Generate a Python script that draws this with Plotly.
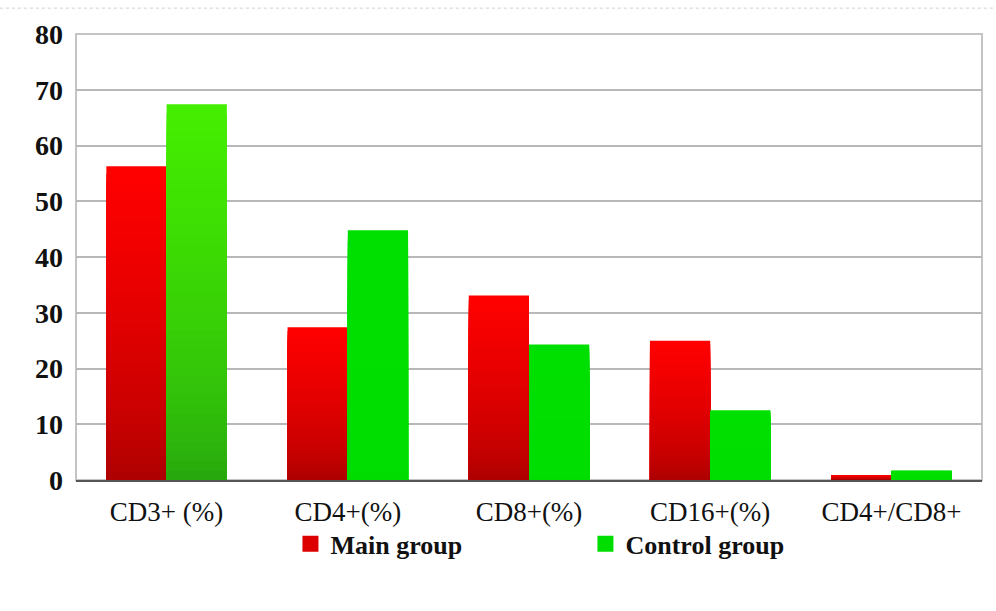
import plotly.graph_objects as go

# Lymphocyte subpopulations, main vs control group
categories = ["CD3+ (%)", "CD4+(%)", "CD8+(%)", "CD16+(%)", "CD4+/CD8+"]
main_group = [56.3, 27.4, 33.1, 25.0, 0.9]
control_group = [67.4, 44.8, 24.3, 12.5, 1.7]

y_ticks = [0, 10, 20, 30, 40, 50, 60, 70, 80]

# top colour / bottom colour of each bar (vertical gradient)
main_top = ["#ff0000"] * 5
main_bottom = ["#a40000"] * 5
control_top = ["#44ee00", "#00e000", "#00e000", "#00e000", "#00e000"]
control_bottom = ["#24a010", "#00dc00", "#00dc00", "#00dc00", "#00dc00"]

STEPS = 40
FONT = "Liberation Serif"


def hex_to_rgb(h):
    h = h.lstrip("#")
    return tuple(int(h[i:i + 2], 16) for i in (0, 2, 4))


def mix(c_top, c_bot, t):
    # t = 1 at the top of the bar, 0 at the bottom; brightness holds longer near the top
    t = t ** 0.6
    a, b = hex_to_rgb(c_top), hex_to_rgb(c_bot)
    r = [round(b[i] + (a[i] - b[i]) * t) for i in range(3)]
    return f"rgb({r[0]},{r[1]},{r[2]})"


fig = go.Figure()


def add_gradient_series(name, values, tops, bottoms, legend_color):
    # tallest layer first (top colour), shorter darker layers drawn over it
    for k in range(STEPS):
        frac = 1 - k / STEPS
        fig.add_trace(go.Bar(
            x=categories,
            y=[v * frac for v in values],
            offsetgroup=name,
            marker=dict(color=[mix(t, b, frac) for t, b in zip(tops, bottoms)],
                        line=dict(width=0)),
            name=name,
            legendgroup=name,
            showlegend=False,
            hoverinfo="skip",
        ))
    # legend entry: square swatch
    fig.add_trace(go.Scatter(
        x=[None], y=[None], name=name, legendgroup=name, mode="markers",
        marker=dict(color=legend_color, symbol="square", size=16, line=dict(width=0)),
        showlegend=True,
    ))


add_gradient_series("Main group", main_group, main_top, main_bottom, "#dd0000")
add_gradient_series("Control group", control_group, control_top, control_bottom, "#00dd00")

fig.update_layout(
    width=996,
    height=611,
    margin=dict(l=76, r=14, t=34, b=131),
    paper_bgcolor="white",
    plot_bgcolor="white",
    barmode="group",
    bargap=0.335,
    bargroupgap=0,
    font=dict(family=FONT, color="#111111"),
    showlegend=True,
    legend=dict(
        orientation="h",
        x=0.2367, xanchor="left",
        y=-0.143, yanchor="middle",
        font=dict(family=FONT, size=26, color="#111111", weight="bold"),
        entrywidth=250,
        itemwidth=30,
        bgcolor="rgba(0,0,0,0)",
        traceorder="normal",
    ),
    shapes=[
        # plot frame
        dict(type="rect", xref="paper", yref="paper", x0=0, x1=1, y0=0, y1=1,
             line=dict(color="#c4c4c4", width=2), layer="below"),
        # dotted rule across the top of the page
        dict(type="line", xref="paper", yref="paper", x0=-0.084, x1=1.016,
             y0=1.058, y1=1.058, line=dict(color="#cfcfcf", width=1, dash="dot")),
    ],
)

fig.update_yaxes(
    range=[0, 80],
    tickvals=y_ticks,
    ticktext=[str(t) for t in y_ticks],
    showgrid=True,
    gridcolor="#b8b8b8",
    gridwidth=2,
    zeroline=False,
    showline=False,
    ticks="",
    ticklabelstandoff=12,
    tickfont=dict(family=FONT, size=28, color="#111111", weight="bold"),
)

fig.update_xaxes(
    showline=True,
    linecolor="#555555",
    linewidth=2,
    ticks="",
    showgrid=False,
    ticklabelstandoff=7,
    tickfont=dict(family=FONT, size=27, color="#111111"),
)

fig.write_html("out.html")
